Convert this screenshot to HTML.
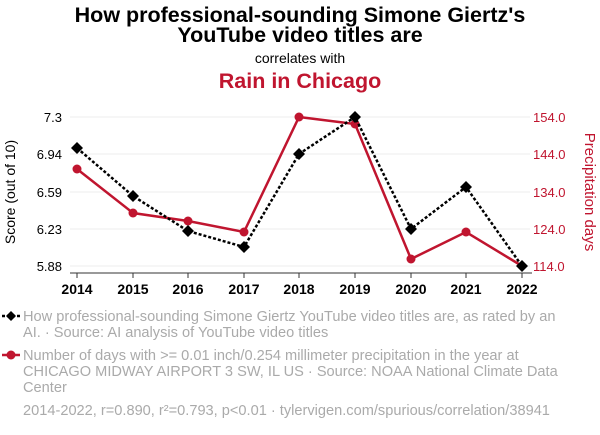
<!DOCTYPE html>
<html><head><meta charset="utf-8"><style>
body{margin:0;background:#fff;width:600px;height:430px;overflow:hidden;font-family:"Liberation Sans",sans-serif}
</style></head><body>
<svg width="600" height="430" xmlns="http://www.w3.org/2000/svg" font-family="Liberation Sans, sans-serif">
<text x="300" y="22" text-anchor="middle" font-size="21.5" font-weight="bold" fill="#000">How professional-sounding Simone Giertz's</text>
<text x="300" y="42" text-anchor="middle" font-size="21.5" font-weight="bold" fill="#000">YouTube video titles are</text>
<text x="300" y="63" text-anchor="middle" font-size="14" fill="#000">correlates with</text>
<text x="300" y="88" text-anchor="middle" font-size="21.5" font-weight="bold" fill="#c0152f">Rain in Chicago</text>
<g stroke="#eee" stroke-width="1">
<line x1="70" x2="530" y1="117" y2="117"/><line x1="70" x2="530" y1="154" y2="154"/><line x1="70" x2="530" y1="192" y2="192"/><line x1="70" x2="530" y1="229" y2="229"/><line x1="70" x2="530" y1="266" y2="266"/>
</g>
<line x1="70" x2="532" y1="273" y2="273" stroke="#333"/>
<g stroke="#333"><line x1="77" x2="77" y1="273" y2="278"/><line x1="133" x2="133" y1="273" y2="278"/><line x1="188" x2="188" y1="273" y2="278"/><line x1="244" x2="244" y1="273" y2="278"/><line x1="299" x2="299" y1="273" y2="278"/><line x1="355" x2="355" y1="273" y2="278"/><line x1="411" x2="411" y1="273" y2="278"/><line x1="466" x2="466" y1="273" y2="278"/><line x1="522" x2="522" y1="273" y2="278"/></g>
<g font-size="14" font-weight="bold" text-anchor="middle" fill="#000">
<text x="77" y="294">2014</text><text x="133" y="294">2015</text><text x="188" y="294">2016</text><text x="244" y="294">2017</text><text x="299" y="294">2018</text><text x="355" y="294">2019</text><text x="411" y="294">2020</text><text x="466" y="294">2021</text><text x="522" y="294">2022</text>
</g>
<g font-size="13" text-anchor="end" fill="#000">
<text x="62" y="122">7.3</text><text x="62" y="159">6.94</text><text x="62" y="197">6.59</text><text x="62" y="234">6.23</text><text x="62" y="271">5.88</text>
</g>
<g font-size="13" fill="#c0152f">
<text x="533" y="122">154.0</text><text x="533" y="159">144.0</text><text x="533" y="197">134.0</text><text x="533" y="234">124.0</text><text x="533" y="271">114.0</text>
</g>
<text transform="translate(15,192) rotate(-90)" text-anchor="middle" font-size="14" fill="#000">Score (out of 10)</text>
<text transform="translate(585,192) rotate(90)" text-anchor="middle" font-size="15" fill="#c0152f">Precipitation days</text>
<polyline fill="none" stroke="#c0152f" stroke-width="2.5" points="77,169 133,213 188,221 244,232 299,117 355,124 411,259 466,232 522,266"/>
<g fill="#c0152f"><circle cx="77" cy="169" r="4.5"/><circle cx="133" cy="213" r="4.5"/><circle cx="188" cy="221" r="4.5"/><circle cx="244" cy="232" r="4.5"/><circle cx="299" cy="117" r="4.5"/><circle cx="355" cy="124" r="4.5"/><circle cx="411" cy="259" r="4.5"/><circle cx="466" cy="232" r="4.5"/></g>
<polyline fill="none" stroke="#000" stroke-width="2.5" stroke-dasharray="3,2" points="77,148 133,196 188,231 244,247 299,154 355,117 411,229 466,187 522,266"/>
<g fill="#000">
<path d="M77,142l6,6l-6,6l-6,-6z"/><path d="M133,190l6,6l-6,6l-6,-6z"/><path d="M188,225l6,6l-6,6l-6,-6z"/><path d="M244,241l6,6l-6,6l-6,-6z"/><path d="M299,148l6,6l-6,6l-6,-6z"/><path d="M355,111l6,6l-6,6l-6,-6z"/><path d="M411,223l6,6l-6,6l-6,-6z"/><path d="M466,181l6,6l-6,6l-6,-6z"/><path d="M522,260l6,6l-6,6l-6,-6z"/>
</g>
<line x1="2" x2="20" y1="316" y2="316" stroke="#000" stroke-width="2.5" stroke-dasharray="3,2"/>
<path d="M11,311l5,5l-5,5l-5,-5z" fill="#000"/>
<line x1="2" x2="20" y1="355" y2="355" stroke="#c0152f" stroke-width="2.5"/>
<circle cx="11" cy="355" r="4.5" fill="#c0152f"/>
<g font-size="14.6" fill="#aaa">
<text x="23" y="321">How professional-sounding Simone Giertz YouTube video titles are, as rated by an</text>
<text x="23" y="337">AI. · Source: AI analysis of YouTube video titles</text>
<text x="23" y="360">Number of days with &gt;= 0.01 inch/0.254 millimeter precipitation in the year at</text>
<text x="23" y="376">CHICAGO MIDWAY AIRPORT 3 SW, IL US · Source: NOAA National Climate Data</text>
<text x="23" y="392">Center</text>
<text x="23" y="415">2014-2022, r=0.890, r²=0.793, p&lt;0.01 · tylervigen.com/spurious/correlation/38941</text>
</g>
</svg>
</body></html>
